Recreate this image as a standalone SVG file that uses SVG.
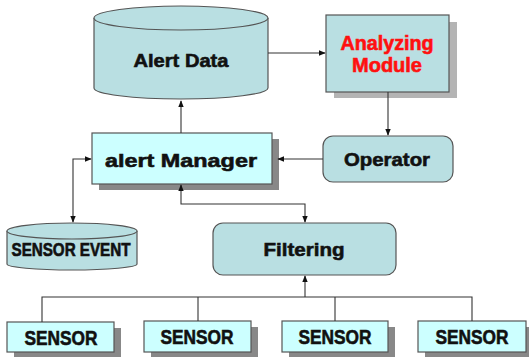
<svg xmlns="http://www.w3.org/2000/svg" width="529" height="357" viewBox="0 0 529 357">
  <defs>
    <style>
      .teal { fill: #b9dfe2; stroke: #555; stroke-width: 1.2; }
      .cyan { fill: #ccffff; stroke: #555; stroke-width: 1.2; }
      .shadow { fill: #888; }
      .shadow-light { fill: #b4b4b4; }
      .lbl { font-family: "Liberation Sans", Arial, sans-serif; font-weight: bold; fill: #111; stroke: #111; stroke-width: 0.6; text-anchor: middle; }
      .red { fill: #ff1010; stroke: #ff1010; }
      .wire { fill: none; stroke: #333; stroke-width: 1.1; }
    </style>
    <marker id="arr" viewBox="0 0 10 10" refX="9" refY="5" markerWidth="7" markerHeight="7" orient="auto-start-reverse" markerUnits="userSpaceOnUse">
      <path d="M0,1 L10,5 L0,9 z" fill="#111"/>
    </marker>
  </defs>
  <rect width="529" height="357" fill="#fff"/>

  <!-- Alert Data store -->
  <g id="alert-data">
    <path class="teal" d="M94,18 L94,88 A87,11 0 0 0 268,88 L268,18"/>
    <ellipse class="teal" cx="181" cy="18" rx="87" ry="12"/>
    <text class="lbl" x="181" y="67" font-size="18.5" textLength="95" lengthAdjust="spacingAndGlyphs">Alert Data</text>
  </g>

  <!-- Analyzing Module -->
  <g id="analyzing-module">
    <rect class="shadow-light" x="334" y="22" width="123" height="76"/>
    <rect class="teal" x="326" y="15" width="123" height="77"/>
    <text class="lbl red" x="387" y="50" font-size="20" textLength="93" lengthAdjust="spacingAndGlyphs">Analyzing</text>
    <text class="lbl red" x="387" y="72" font-size="20" textLength="70" lengthAdjust="spacingAndGlyphs">Module</text>
  </g>

  <!-- Operator -->
  <g id="operator">
    <rect class="teal" x="323" y="136" width="130" height="46" rx="10"/>
    <text class="lbl" x="387" y="166" font-size="19" textLength="86" lengthAdjust="spacingAndGlyphs">Operator</text>
  </g>

  <!-- alert Manager -->
  <g id="alert-manager">
    <rect class="shadow" x="99" y="139" width="180" height="51"/>
    <rect class="cyan" x="92" y="133" width="180" height="51"/>
    <text class="lbl" x="181" y="167" font-size="19" textLength="152" lengthAdjust="spacingAndGlyphs">alert Manager</text>
  </g>

  <!-- SENSOR EVENT store -->
  <g id="sensor-event">
    <path class="teal" d="M7,231 L7,264 A65,6 0 0 0 137,264 L137,231"/>
    <ellipse class="teal" cx="72" cy="231" rx="65" ry="8"/>
    <text class="lbl" x="71" y="256" font-size="17.5" textLength="119" lengthAdjust="spacingAndGlyphs">SENSOR EVENT</text>
  </g>

  <!-- Filtering -->
  <g id="filtering">
    <rect class="teal" x="213" y="223" width="183" height="52" rx="10"/>
    <text class="lbl" x="304" y="256" font-size="19" textLength="81" lengthAdjust="spacingAndGlyphs">Filtering</text>
  </g>

  <!-- sensors -->
  <g id="sensor-1">
    <rect class="shadow" x="14" y="328" width="107" height="31"/>
    <rect class="cyan" x="7" y="322" width="107" height="30"/>
    <text class="lbl" x="61" y="345" font-size="20" textLength="73" lengthAdjust="spacingAndGlyphs">SENSOR</text>
  </g>
  <g id="sensor-2">
    <rect class="shadow" x="151" y="327" width="107" height="31"/>
    <rect class="cyan" x="144" y="321" width="107" height="31"/>
    <text class="lbl" x="197" y="344" font-size="20" textLength="73" lengthAdjust="spacingAndGlyphs">SENSOR</text>
  </g>
  <g id="sensor-3">
    <rect class="shadow" x="289" y="327" width="106" height="31"/>
    <rect class="cyan" x="282" y="321" width="106" height="31"/>
    <text class="lbl" x="335" y="344" font-size="20" textLength="73" lengthAdjust="spacingAndGlyphs">SENSOR</text>
  </g>
  <g id="sensor-4">
    <rect class="shadow" x="425" y="327" width="108" height="31"/>
    <rect class="cyan" x="418" y="321" width="108" height="31"/>
    <text class="lbl" x="472" y="344" font-size="20" textLength="73" lengthAdjust="spacingAndGlyphs">SENSOR</text>
  </g>

  <!-- connectors, drawn last so they sit over the shadows -->
  <g id="connectors" class="wire">
    <line x1="268" y1="53" x2="325" y2="53" marker-end="url(#arr)"/>
    <line x1="388" y1="92" x2="388" y2="135" marker-end="url(#arr)"/>
    <line x1="323" y1="159" x2="278" y2="159" marker-end="url(#arr)"/>
    <line x1="181" y1="133" x2="181" y2="101" marker-end="url(#arr)"/>
    <polyline points="91,159 73,159 73,222" marker-start="url(#arr)" marker-end="url(#arr)"/>
    <polyline points="181,185 181,204 305,204 305,222" marker-start="url(#arr)" marker-end="url(#arr)"/>
    <polyline points="42,322 42,297 472,297 472,321"/>
    <line x1="198" y1="297" x2="198" y2="321"/>
    <line x1="335" y1="297" x2="335" y2="321"/>
    <line x1="305" y1="297" x2="305" y2="276" marker-end="url(#arr)"/>
  </g>
</svg>
